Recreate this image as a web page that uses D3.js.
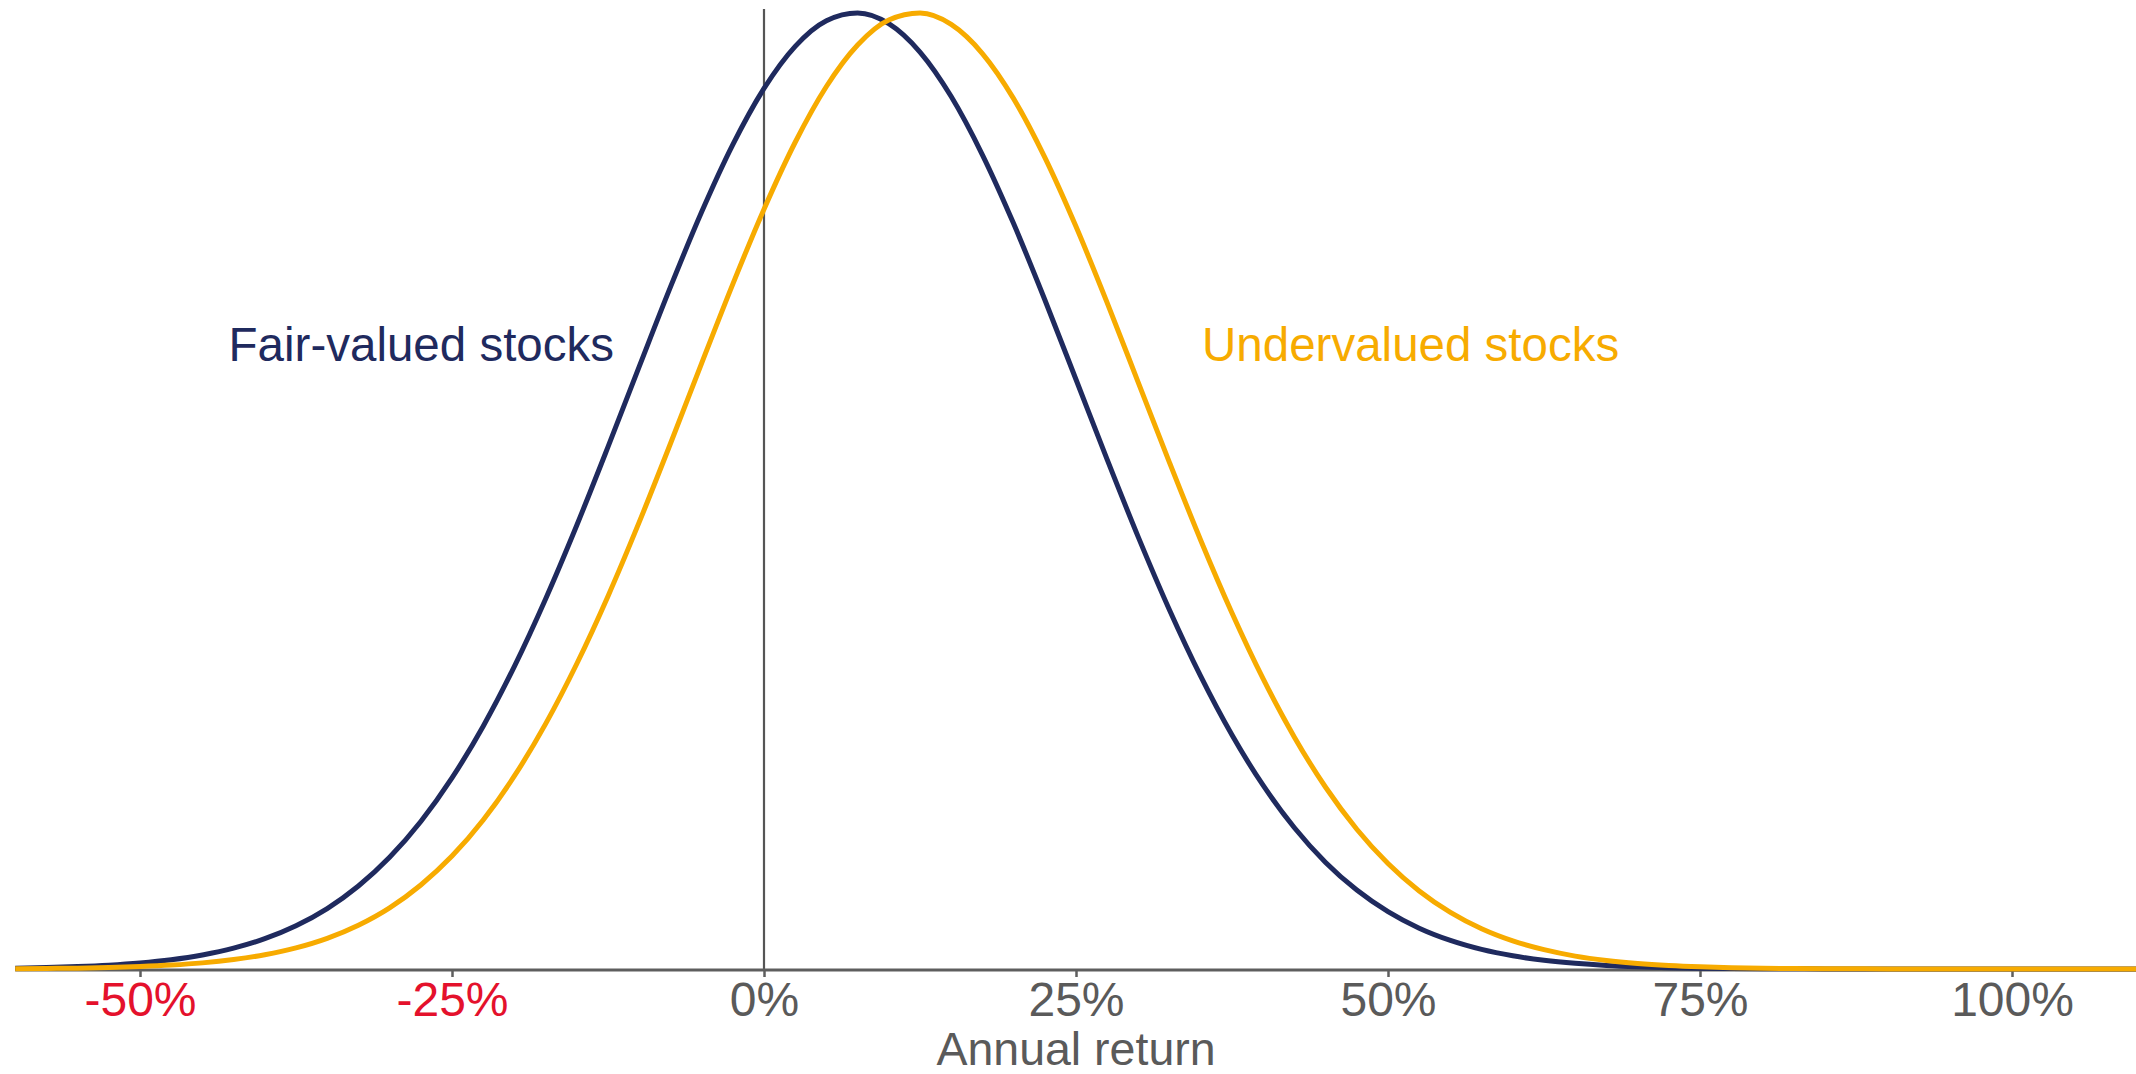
<!DOCTYPE html>
<html>
<head>
<meta charset="utf-8">
<script src="https://cdn.jsdelivr.net/npm/d3@7"></script>
<style>
  html, body { margin: 0; padding: 0; background: #ffffff; }
  svg { display: block; font-family: "Liberation Sans", Arial, sans-serif; }
</style>
</head>
<body>
<svg id="chart" width="2136" height="1074"></svg>
<script>
// Annual return grid (%)
const returns = [
  -60, -57.5, -55, -52.5, -50, -47.5, -45, -42.5, -40, -37.5, -35, -32.5,
  -30, -27.5, -25, -22.5, -20, -17.5, -15, -12.5, -10, -7.5, -5, -2.5,
  0, 2.5, 5, 7.5, 10, 12.5, 15, 17.5, 20, 22.5, 25, 27.5, 30, 32.5, 35, 37.5,
  40, 42.5, 45, 47.5, 50, 52.5, 55, 57.5, 60, 62.5, 65, 67.5, 70, 72.5, 75, 77.5,
  80, 82.5, 85, 87.5, 90, 92.5, 95, 97.5, 100, 102.5, 105, 107.5, 110
];

// Relative density (peak = 1)
const fairValued = [
  0.0009, 0.0015, 0.0025, 0.0040, 0.0063, 0.0097, 0.0147, 0.0218, 0.0317, 0.0452, 0.0632, 0.0868,
  0.1168, 0.1543, 0.1999, 0.2540, 0.3166, 0.3871, 0.4642, 0.5461, 0.6301, 0.7132, 0.7918, 0.8623,
  0.9211, 0.9651, 0.9919, 1.0000, 0.9888, 0.9591, 0.9126, 0.8517, 0.7797, 0.7001, 0.6166, 0.5328,
  0.4515, 0.3753, 0.3060, 0.2447, 0.1920, 0.1478, 0.1115, 0.0826, 0.0600, 0.0427, 0.0299, 0.0205,
  0.0138, 0.0091, 0.0059, 0.0037, 0.0023, 0.0014, 0.0008, 0.0005, 0.0003, 0.0002, 0.0001, 0.0001,
  0, 0, 0, 0, 0, 0, 0, 0, 0
];

const undervalued = [
  0.0003, 0.0006, 0.0009, 0.0016, 0.0026, 0.0041, 0.0064, 0.0099, 0.0149, 0.0221, 0.0321, 0.0458,
  0.0640, 0.0879, 0.1181, 0.1559, 0.2019, 0.2564, 0.3193, 0.3900, 0.4674, 0.5494, 0.6335, 0.7164,
  0.7948, 0.8648, 0.9231, 0.9665, 0.9926, 0.9999, 0.9880, 0.9576, 0.9104, 0.8490, 0.7766, 0.6968,
  0.6132, 0.5295, 0.4483, 0.3724, 0.3034, 0.2425, 0.1901, 0.1462, 0.1103, 0.0816, 0.0592, 0.0421,
  0.0294, 0.0202, 0.0135, 0.0089, 0.0058, 0.0037, 0.0023, 0.0014, 0.0008, 0.0005, 0.0003, 0.0002,
  0.0001, 0.0001, 0, 0, 0, 0, 0, 0, 0
];

const tickValues = [-50, -25, 0, 25, 50, 75, 100];
const tickLabels = ["-50%", "-25%", "0%", "25%", "50%", "75%", "100%"];
const seriesNames = ["Fair-valued stocks", "Undervalued stocks"];
const labelAnchors = [[-42.9, 0.636], [35.1, 0.636]]; // data-space anchors for labels
const axisTitle = "Annual return";

// ---- layout / style ----
const COLORS = ["#1f2a5e", "#f7ab00"];
const NEG = "#e4112c", GREY = "#5a5a5a", AXIS = "#5e5e5e";

const svg = d3.select("#chart");
const x = d3.scaleLinear().domain([-60, 110]).range([15.2, 2136.8]);
const y = d3.scaleLinear().domain([0, 1]).range([969, 13]);
const panelTop = 9, baseY = 970;

// zero reference line
svg.append("line")
  .attr("x1", x(0)).attr("x2", x(0))
  .attr("y1", panelTop).attr("y2", baseY)
  .attr("stroke", "#555").attr("stroke-width", 2.2);

// x axis
const axis = d3.axisBottom(x)
  .tickValues(tickValues)
  .tickFormat((d, i) => tickLabels[i])
  .tickSize(7)
  .tickPadding(5);

const gAxis = svg.append("g").attr("transform", `translate(0,${baseY})`).call(axis);
gAxis.select(".domain").attr("stroke", AXIS).attr("stroke-width", 2.8)
  .attr("d", `M${x(-60)},0H${x(110)}`);
gAxis.selectAll(".tick line").attr("stroke", AXIS).attr("stroke-width", 2.5);
gAxis.selectAll(".tick text")
  .attr("font-size", 48)
  .attr("font-family", "'Liberation Sans', Arial, sans-serif")
  .attr("fill", d => d < 0 ? NEG : GREY);

svg.append("text")
  .attr("x", (x(-60) + x(110)) / 2)
  .attr("y", 1065)
  .attr("text-anchor", "middle")
  .attr("font-size", 46.5)
  .attr("fill", GREY)
  .text(axisTitle);

// curves
const line = d3.line()
  .x(d => x(d[0]))
  .y(d => y(d[1]))
  .curve(d3.curveMonotoneX);

[fairValued, undervalued].forEach((vals, i) => {
  svg.append("path")
    .datum(returns.map((r, j) => [r, vals[j]]))
    .attr("fill", "none")
    .attr("stroke", COLORS[i])
    .attr("stroke-width", 5)
    .attr("stroke-linejoin", "round")
    .attr("d", line);
});

// series labels
seriesNames.forEach((name, i) => {
  svg.append("text")
    .attr("x", x(labelAnchors[i][0]))
    .attr("y", y(labelAnchors[i][1]))
    .attr("font-size", 47.5)
    .attr("fill", COLORS[i])
    .text(name);
});
</script>
</body>
</html>
